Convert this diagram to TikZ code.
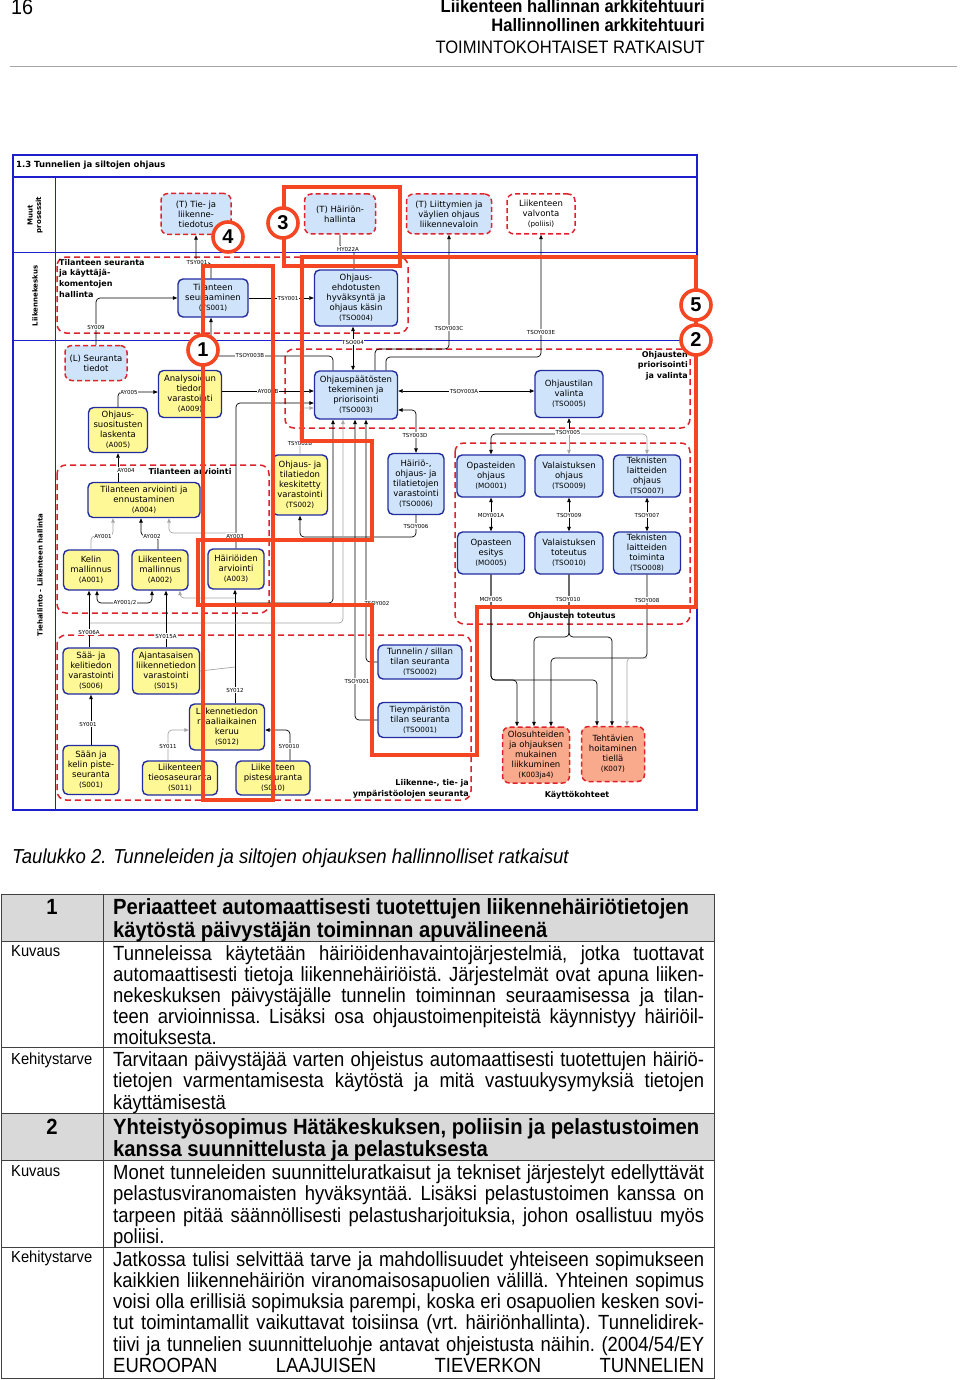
\documentclass[tikz,border=0pt]{standalone}
\usepackage{fontspec}
\setmainfont{DejaVu Sans}
\newfontfamily\bodyf[FakeStretch=0.9]{Liberation Sans}
\newfontfamily\headf[FakeStretch=0.92]{Liberation Sans}
\newfontfamily\arialf{Liberation Sans}
\usetikzlibrary{arrows.meta}
\definecolor{nblue}{RGB}{35,45,160}
\definecolor{fblue}{RGB}{30,30,205}
\definecolor{lblue}{RGB}{207,228,250}
\definecolor{lyel}{RGB}{255,248,150}
\definecolor{salm}{RGB}{250,170,140}
\definecolor{dred}{RGB}{222,35,45}
\definecolor{hlc}{RGB}{245,70,35}
\definecolor{thead}{RGB}{217,217,217}
\newcommand\cdx[1]{{\fontsize{7.2}{9}\selectfont #1}}
\newcommand\jfy[1]{\makebox[591pt][s]{\frenchspacing #1}}
\begin{document}
\begin{tikzpicture}[x=1pt,y=-1pt,>={Triangle[length=4.5pt,width=3.6pt]},
 nd/.style={draw=nblue, line width=1.4pt, rounded corners=5pt, align=center, inner sep=0.5pt, font=\fontsize{8.5}{10}\selectfont},
 bb/.style={nd, fill=lblue},
 yb/.style={nd, fill=lyel},
 xb/.style={nd, draw=dred, dash pattern=on 5pt off 3pt, line width=1.5pt, rounded corners=7pt},
 grp/.style={draw=dred, dash pattern=on 6pt off 4pt, line width=1.5pt, rounded corners=9pt},
 arr/.style={draw=black, line width=0.7pt, rounded corners=4pt, ->},
 darr/.style={arr, <->},
 garr/.style={arr, draw=gray!70},
 lbl/.style={fill=white, inner sep=0.6pt, font=\fontsize{5.5}{6}\selectfont},
 glab/.style={font=\bfseries\fontsize{8}{10.7}\selectfont, inner sep=0pt},
 lane/.style={rotate=90, align=center, inner sep=0pt, font=\bfseries\fontsize{7}{8.4}\selectfont},
 hl/.style={draw=hlc, line width=3.6pt},
 circ/.style={circle, draw=hlc, line width=3.6pt, fill=white, minimum size=30pt, inner sep=0pt, font=\arialf\bfseries\fontsize{20}{20}\selectfont},
 tb/.style={anchor=base west, inner sep=0pt, font=\bodyf\fontsize{20.5}{21}\selectfont},
 th/.style={anchor=base west, inner sep=0pt, font=\headf\bfseries\fontsize{22}{23}\selectfont},
 tl/.style={anchor=base west, inner sep=0pt, font=\headf\fontsize{16}{18}\selectfont},
 tbl/.style={draw=black!75, line width=0.8pt}
]
\useasboundingbox (0,0) rectangle (960,1380);
\fill[white] (0,0) rectangle (960,1380);

% ---------- page header ----------
\node[anchor=base west, inner sep=0pt, font=\headf\fontsize{21.5}{22}\selectfont] (pnum) at (11,15) {16};
\node[anchor=base east, inner sep=0pt, font=\headf\bfseries\fontsize{18}{20}\selectfont] (ph1) at (705,13) {Liikenteen hallinnan arkkitehtuuri};
\node[anchor=base east, inner sep=0pt, font=\headf\bfseries\fontsize{18}{20}\selectfont] (ph2) at (705,32) {Hallinnollinen arkkitehtuuri};
\node[anchor=base east, inner sep=0pt, font=\headf\fontsize{18}{20}\selectfont] (ph3) at (705,54) {TOIMINTOKOHTAISET RATKAISUT};
\draw[gray!70, line width=1pt] (10,67) -- (957,67);

% ---------- diagram frame ----------
\draw[fblue, line width=2pt] (13,155) rectangle (697,810);
\draw[fblue, line width=2.2pt] (13,177) -- (697,177);
\draw[fblue, line width=1pt] (13,252) -- (697,252) (13,340) -- (697,340) (55,177) -- (55,810);
\node[anchor=west, inner sep=0pt, font=\bfseries\fontsize{8.5}{10}\selectfont] (title) at (16,165) {1.3 Tunnelien ja siltojen ohjaus};
\node[lane] (ln1) at (35,215) {Muut\\prosessit};
\node[lane] (ln2) at (35,296) {Liikennekeskus};
\node[lane] (ln3) at (40,575) {Tiehallinto - Liikenteen hallinta};

% ---------- groups ----------
\draw[grp] (57,257) rectangle (408,333);
\draw[grp] (285,349) rectangle (690,428);
\draw[grp] (57,465) rectangle (269,613);
\draw[grp] (455,443) rectangle (690,624);
\draw[grp] (57,635) rectangle (471,800);
\node[glab, anchor=north west, align=left] (g1l) at (59,259) {Tilanteen seuranta\\ja käyttäjä-\\komentojen\\hallinta};
\node[glab, anchor=north east, align=right] (g2l) at (688,351) {Ohjausten\\priorisointi\\ja valinta};
\node[glab] (g3l) at (190,472) {Tilanteen arviointi};
\node[glab] (g4l) at (572,616) {Ohjausten toteutus};
\node[glab, anchor=south east, align=right] (g5l) at (469,798) {Liikenne-, tie- ja\\ympäristöolojen seuranta};
\node[glab] (kkl) at (577,795) {Käyttökohteet};

% ---------- nodes: Muut prosessit ----------
\node[xb, fill=lblue, minimum width=70pt, minimum height=41pt] (tied) at (196,214) {(T) Tie- ja\\liikenne-\\tiedotus};
\node[xb, fill=lblue, minimum width=71pt, minimum height=40pt] (hhal) at (340,214) {(T) Häiriön-\\hallinta};
\node[xb, fill=lblue, minimum width=85pt, minimum height=40pt] (liit) at (449,214) {(T) Liittymien ja\\väylien ohjaus\\liikennevaloin};
\node[xb, fill=white, minimum width=68pt, minimum height=40pt] (valv) at (541,214) {Liikenteen\\valvonta\\\cdx{(poliisi)}};

% ---------- Liikennekeskus ----------
\node[bb, minimum width=70pt, minimum height=38pt] (ts001) at (213,298) {Tilanteen\\seuraaminen\\\cdx{(TS001)}};
\node[bb, minimum width=83pt, minimum height=56pt] (tso004) at (356,298) {Ohjaus-\\ehdotusten\\hyväksyntä ja\\ohjaus käsin\\\cdx{(TSO004)}};

% ---------- Tiehallinto ----------
\node[xb, fill=lblue, minimum width=62pt, minimum height=35pt] (seur) at (96,363) {(L) Seuranta\\tiedot};
\node[yb, minimum width=63pt, minimum height=47pt] (a009) at (190,394) {Analysoidun\\tiedon\\varastointi\\\cdx{(A009)}};
\node[yb, minimum width=59pt, minimum height=45pt] (a005) at (118,430) {Ohjaus-\\suositusten\\laskenta\\\cdx{(A005)}};
\node[bb, minimum width=83pt, minimum height=48pt] (tso003) at (356,395) {Ohjauspäätösten\\tekeminen ja\\priorisointi\\\cdx{(TSO003)}};
\node[bb, minimum width=68pt, minimum height=47pt] (tso005) at (569,394) {Ohjaustilan\\valinta\\\cdx{(TSO005)}};
\node[yb, minimum width=55pt, minimum height=60pt] (ts002) at (300,485) {Ohjaus- ja\\tilatiedon\\keskitetty\\varastointi\\\cdx{(TS002)}};
\node[bb, minimum width=56pt, minimum height=61pt] (tso006) at (416,484) {Häiriö-,\\ohjaus- ja\\tilatietojen\\varastointi\\\cdx{(TSO006)}};
\node[bb, minimum width=68pt, minimum height=42pt] (mo001) at (491,476) {Opasteiden\\ohjaus\\\cdx{(MO001)}};
\node[bb, minimum width=68pt, minimum height=42pt] (tso009) at (569,476) {Valaistuksen\\ohjaus\\\cdx{(TSO009)}};
\node[bb, minimum width=67pt, minimum height=42pt] (tso007) at (647,476) {Teknisten\\laitteiden\\ohjaus\\\cdx{(TSO007)}};
\node[bb, minimum width=67pt, minimum height=42pt] (mo005) at (491,553) {Opasteen\\esitys\\\cdx{(MO005)}};
\node[bb, minimum width=68pt, minimum height=42pt] (tso010) at (569,553) {Valaistuksen\\toteutus\\\cdx{(TSO010)}};
\node[bb, minimum width=67pt, minimum height=42pt] (tso008) at (647,553) {Teknisten\\laitteiden\\toiminta\\\cdx{(TSO008)}};
\node[yb, minimum width=112pt, minimum height=35pt] (a004) at (144,500) {Tilanteen arviointi ja\\ennustaminen\\\cdx{(A004)}};
\node[yb, minimum width=55pt, minimum height=40pt] (a001) at (91,570) {Kelin\\mallinnus\\\cdx{(A001)}};
\node[yb, minimum width=56pt, minimum height=40pt] (a002) at (160,570) {Liikenteen\\mallinnus\\\cdx{(A002)}};
\node[yb, minimum width=56pt, minimum height=40pt] (a003) at (236,569) {Häiriöiden\\arviointi\\\cdx{(A003)}};
\node[yb, minimum width=56pt, minimum height=46pt] (s006) at (91,671) {Sää- ja\\kelitiedon\\varastointi\\\cdx{(S006)}};
\node[yb, minimum width=67pt, minimum height=46pt] (s015) at (166,671) {Ajantasaisen\\liikennetiedon\\varastointi\\\cdx{(S015)}};
\node[yb, minimum width=75pt, minimum height=46pt] (s012) at (227,727) {Liikennetiedon\\reaaliaikainen\\keruu\\\cdx{(S012)}};
\node[yb, minimum width=56pt, minimum height=49pt] (s001) at (91,770) {Sään ja\\kelin piste-\\seuranta\\\cdx{(S001)}};
\node[yb, minimum width=75pt, minimum height=34pt] (s011) at (180,778) {Liikenteen\\tieosaseuranta\\\cdx{(S011)}};
\node[yb, minimum width=74pt, minimum height=34pt] (s010) at (273,778) {Liikenteen\\pisteseuranta\\\cdx{(S010)}};
\node[bb, minimum width=84pt, minimum height=34pt] (tso002) at (420,662) {Tunnelin / sillan\\tilan seuranta\\\cdx{(TSO002)}};
\node[bb, minimum width=84pt, minimum height=35pt] (tso001) at (420,720) {Tieympäristön\\tilan seuranta\\\cdx{(TSO001)}};
\node[xb, fill=salm, minimum width=67pt, minimum height=56pt] (k003) at (536,755) {Olosuhteiden\\ja ohjauksen\\mukainen\\liikkuminen\\\cdx{(K003ja4)}};
\node[xb, fill=salm, minimum width=63pt, minimum height=55pt] (k007) at (613,754) {Tehtävien\\hoitaminen\\tiellä\\\cdx{(K007)}};

% ---------- connectors ----------
\draw[arr] ([xshift=-2pt]ts001.north) -- ++(0,-16) -| (tied.south);
\draw[arr] (seur.north) |- (ts001.west);
\draw[arr] ([xshift=-23pt]tso003.north) |- (260,356) -| ([xshift=-2pt]ts001.south);
\draw[arr] (ts001.east) -- (tso004.west);
\draw[arr] (hhal.south) |- (348,249) -| ([xshift=-2pt]tso004.north);
\draw[darr] ([xshift=-3pt]tso003.north) -- ([xshift=-3pt]tso004.south);
\draw[arr] ([xshift=19pt]tso003.north) |- (420,349) -| (liit.south);
\draw[arr] ([xshift=30pt]tso003.north) |- (460,357) -| (valv.south);
\draw[darr] ([yshift=4pt]tso003.east) -- ([yshift=3pt]tso005.west);
\draw[arr] ([yshift=3pt]a009.east) -- ([yshift=4pt]tso003.west);
\draw[arr] (a003.north) |- ([yshift=-8pt]tso003.west);
\draw[garr] (ts002.north) |- ([yshift=-13pt]tso003.west);
\draw[darr] ([yshift=-15pt]tso003.east) -| (tso006.north);
\draw[arr] (tso006.south) |- (360,537) -| (ts002.south);
\draw[arr] (tso001.west) -| ([xshift=-1pt]tso003.south);
\draw[arr] (tso002.west) -| ([xshift=10pt]tso003.south);
\draw[arr] ([xshift=8pt]s012.north) -- ([xshift=-1pt]a003.south);
\coordinate (j1) at (235,603);
\draw[arr] (j1) -| ([xshift=-23pt]tso003.south);
\coordinate (j2) at (89,623);
\draw[garr] (j2) -| ([xshift=-13pt]tso003.south);
\draw[arr] ([xshift=-2pt]s006.north) -- ([xshift=-2pt]a001.south);
\draw[arr] (s015.north) -- ([xshift=6pt]a002.south);
\draw[darr] ([xshift=6pt]a001.south) |- (125,603) -| ([xshift=-8pt]a002.south);
\draw[arr] (s001.north) -- (s006.south);
\draw[garr] ([xshift=-12pt]s011.north) |- ([yshift=-3pt]s012.west);
\draw[arr] ([xshift=17pt]s010.north) |- ([yshift=-3pt]s012.east);
\draw[garr] (a001.north) |- (103,536) -| ([xshift=-31pt]a004.south);
\draw[arr] ([xshift=-2pt]a002.north) |- (150,536) -| ([xshift=-3pt]a004.south);
\coordinate (j3) at (236,533);
\draw[garr] (j3) -| ([xshift=25pt]a004.south);
\draw[arr] ([xshift=-26pt]a004.north) -- (a005.south);
\draw[arr] (a005.north) |- ([yshift=2pt]a009.west);
\coordinate (j4) at (235,598);
\draw[garr] (j4) -| ([xshift=20pt]a002.south);
\coordinate (j5) at (235,667);
\draw[gray!70, line width=0.7pt] (s015.east) -- (j5);

\coordinate (t5) at (569,434);
\draw[arr] (t5) -- (tso005.south);
\draw[arr] (t5) -| (mo001.north);
\draw[garr] (t5) -- (tso009.north);
\draw[garr] (t5) -| (tso007.north);
\draw[darr] (mo001.south) -- (mo005.north);
\draw[darr] (tso009.south) -- (tso010.north);
\draw[darr] (tso007.south) -- (tso008.north);
\coordinate (m5) at (491,680);
\draw[arr] (mo005.south) -- (m5) -| ([xshift=-19pt]k003.north);
\draw[arr] (mo005.south) -- (m5) -| ([xshift=-16pt]k007.north);
\coordinate (t10) at (569,637);
\draw[arr] (tso010.south) -- (t10) -| ([xshift=-2pt]k003.north);
\draw[arr] (tso010.south) -- (t10) -| ([xshift=-1pt]k007.north);
\coordinate (t8) at (647,658);
\draw[arr] (tso008.south) -- (t8) -| ([xshift=15pt]k003.north);
\draw[garr] (t8) -| ([xshift=14pt]k007.north);

% ---------- connector labels ----------
\node[lbl] (l01) at (197,262) {TSY001};
\node[lbl] (l02) at (96,327) {SY009};
\node[lbl] (l03) at (250,355) {TSOY003B};
\node[lbl] (l04) at (288,298) {TSY001};
\node[lbl] (l05) at (348,249) {HY022A};
\node[lbl] (l06) at (353,342) {TSO004};
\node[lbl] (l07) at (449,328) {TSOY003C};
\node[lbl] (l08) at (541,332) {TSOY003E};
\node[lbl] (l09) at (464,391) {TSOY003A};
\node[lbl] (l10) at (268,391) {AY009B};
\node[lbl] (l11) at (235,536) {AY003};
\node[lbl] (l12) at (300,443) {TSY002B};
\node[lbl] (l13) at (415,435) {TSY003D};
\node[lbl] (l14) at (416,526) {TSOY006};
\node[lbl] (l15) at (357,681) {TSOY001};
\node[lbl] (l16) at (377,603) {TSOY002};
\node[lbl] (l17) at (235,690) {SY012};
\node[lbl] (l18) at (89,632) {SY006A};
\node[lbl] (l19) at (166,636) {SY015A};
\node[lbl] (l20) at (125,603) {AY001/2};
\node[lbl] (l21) at (88,724) {SY001};
\node[lbl] (l22) at (168,746) {SY011};
\node[lbl] (l23) at (289,746) {SY0010};
\node[lbl] (l24) at (103,536) {AY001};
\node[lbl] (l25) at (152,536) {AY002};
\node[lbl] (l26) at (126,470) {AY004};
\node[lbl] (l27) at (129,392) {AY005};
\node[lbl] (l28) at (568,432) {TSOY005};
\node[lbl] (l29) at (491,515) {MOY001A};
\node[lbl] (l30) at (569,515) {TSOY009};
\node[lbl] (l31) at (647,515) {TSOY007};
\node[lbl] (l32) at (491,599) {MOY005};
\node[lbl] (l33) at (568,599) {TSOY010};
\node[lbl] (l34) at (647,600) {TSOY008};

% ---------- red highlights ----------
\draw[hl] (284,187) rectangle (400,266);
\draw[hl] (203,266) rectangle (273,800);
\draw[hl] (302,257) -- (696,257) -- (696,607) -- (477,607) -- (477,755) -- (372,755) -- (372,605) -- (198,605) -- (198,540) -- (372,540) -- (372,441) -- (302,441) -- cycle;
\node[circ] (c1) at (203,350) {1};
\node[circ] (c4) at (228,237) {4};
\node[circ] (c3) at (283,223) {3};
\node[circ] (c5) at (696,305) {5};
\node[circ] (c2) at (696,340) {2};

% ---------- caption ----------
\node[anchor=base west, inner sep=0pt, font=\headf\itshape\fontsize{20.2}{22}\selectfont] (cap) at (12,863.5) {Taulukko 2. Tunneleiden ja siltojen ohjauksen hallinnolliset ratkaisut};

% ---------- table ----------
\fill[thead] (1,894) rectangle (714,941);
\fill[thead] (1,1113) rectangle (714,1160);
\draw[tbl] (1,894) rectangle (714,1378);
\draw[tbl] (1,941) -- (714,941) (1,1047) -- (714,1047) (1,1113) -- (714,1113) (1,1160) -- (714,1160) (1,1247) -- (714,1247) (103,894) -- (103,1378);

\node[th, anchor=base] (n1) at (52,914) {1};
\node[th] (h1a) at (113,914) {Periaatteet automaattisesti tuotettujen liikennehäiriötietojen};
\node[th] (h1b) at (113,937) {käytöstä päivystäjän toiminnan apuvälineenä};
\node[tl] (k1) at (11,956) {Kuvaus};
\node[tb] (r1a) at (113,960.5) {\jfy{Tunneleissa käytetään häiriöidenhavaintojärjestelmiä, jotka tuottavat}};
\node[tb] (r1b) at (113,981.5) {\jfy{automaattisesti tietoja liikennehäiriöistä. Järjestelmät ovat apuna liiken-}};
\node[tb] (r1c) at (113,1002.5) {\jfy{nekeskuksen päivystäjälle tunnelin toiminnan seuraamisessa ja tilan-}};
\node[tb] (r1d) at (113,1023.5) {\jfy{teen arvioinnissa. Lisäksi osa ohjaustoimenpiteistä käynnistyy häiriöil-}};
\node[tb] (r1e) at (113,1044.5) {moituksesta.};
\node[tl] (k2) at (11,1064) {Kehitystarve};
\node[tb] (r2a) at (113,1066.5) {\jfy{Tarvitaan päivystäjää varten ohjeistus automaattisesti tuotettujen häiriö-}};
\node[tb] (r2b) at (113,1087.5) {\jfy{tietojen varmentamisesta käytöstä ja mitä vastuukysymyksiä tietojen}};
\node[tb] (r2c) at (113,1109) {käyttämisestä};
\node[th, anchor=base] (n2) at (52,1134) {2};
\node[th] (h2a) at (113,1134) {Yhteistyösopimus Hätäkeskuksen, poliisin ja pelastustoimen};
\node[th] (h2b) at (113,1156) {kanssa suunnittelusta ja pelastuksesta};
\node[tl] (k3) at (11,1176) {Kuvaus};
\node[tb] (r3a) at (113,1179.5) {\jfy{Monet tunneleiden suunnitteluratkaisut ja tekniset järjestelyt edellyttävät}};
\node[tb] (r3b) at (113,1200.5) {\jfy{pelastusviranomaisten hyväksyntää. Lisäksi pelastustoimen kanssa on}};
\node[tb] (r3c) at (113,1222) {\jfy{tarpeen pitää säännöllisesti pelastusharjoituksia, johon osallistuu myös}};
\node[tb] (r3d) at (113,1243) {poliisi.};
\node[tl] (k4) at (11,1262) {Kehitystarve};
\node[tb] (r4a) at (113,1266.5) {\jfy{Jatkossa tulisi selvittää tarve ja mahdollisuudet yhteiseen sopimukseen}};
\node[tb] (r4b) at (113,1287.5) {\jfy{kaikkien liikennehäiriön viranomaisosapuolien välillä. Yhteinen sopimus}};
\node[tb] (r4c) at (113,1308.5) {\jfy{voisi olla erillisiä sopimuksia parempi, koska eri osapuolien kesken sovi-}};
\node[tb] (r4d) at (113,1329.5) {\jfy{tut toimintamallit vaikuttavat toisiinsa (vrt. häiriönhallinta). Tunnelidirek-}};
\node[tb] (r4e) at (113,1351) {\jfy{tiivi ja tunnelien suunnitteluohje antavat ohjeistusta näihin. (2004/54/EY}};
\node[tb] (r4f) at (113,1372) {\jfy{EUROOPAN LAAJUISEN TIEVERKON TUNNELIEN}};
\end{tikzpicture}
\end{document}
